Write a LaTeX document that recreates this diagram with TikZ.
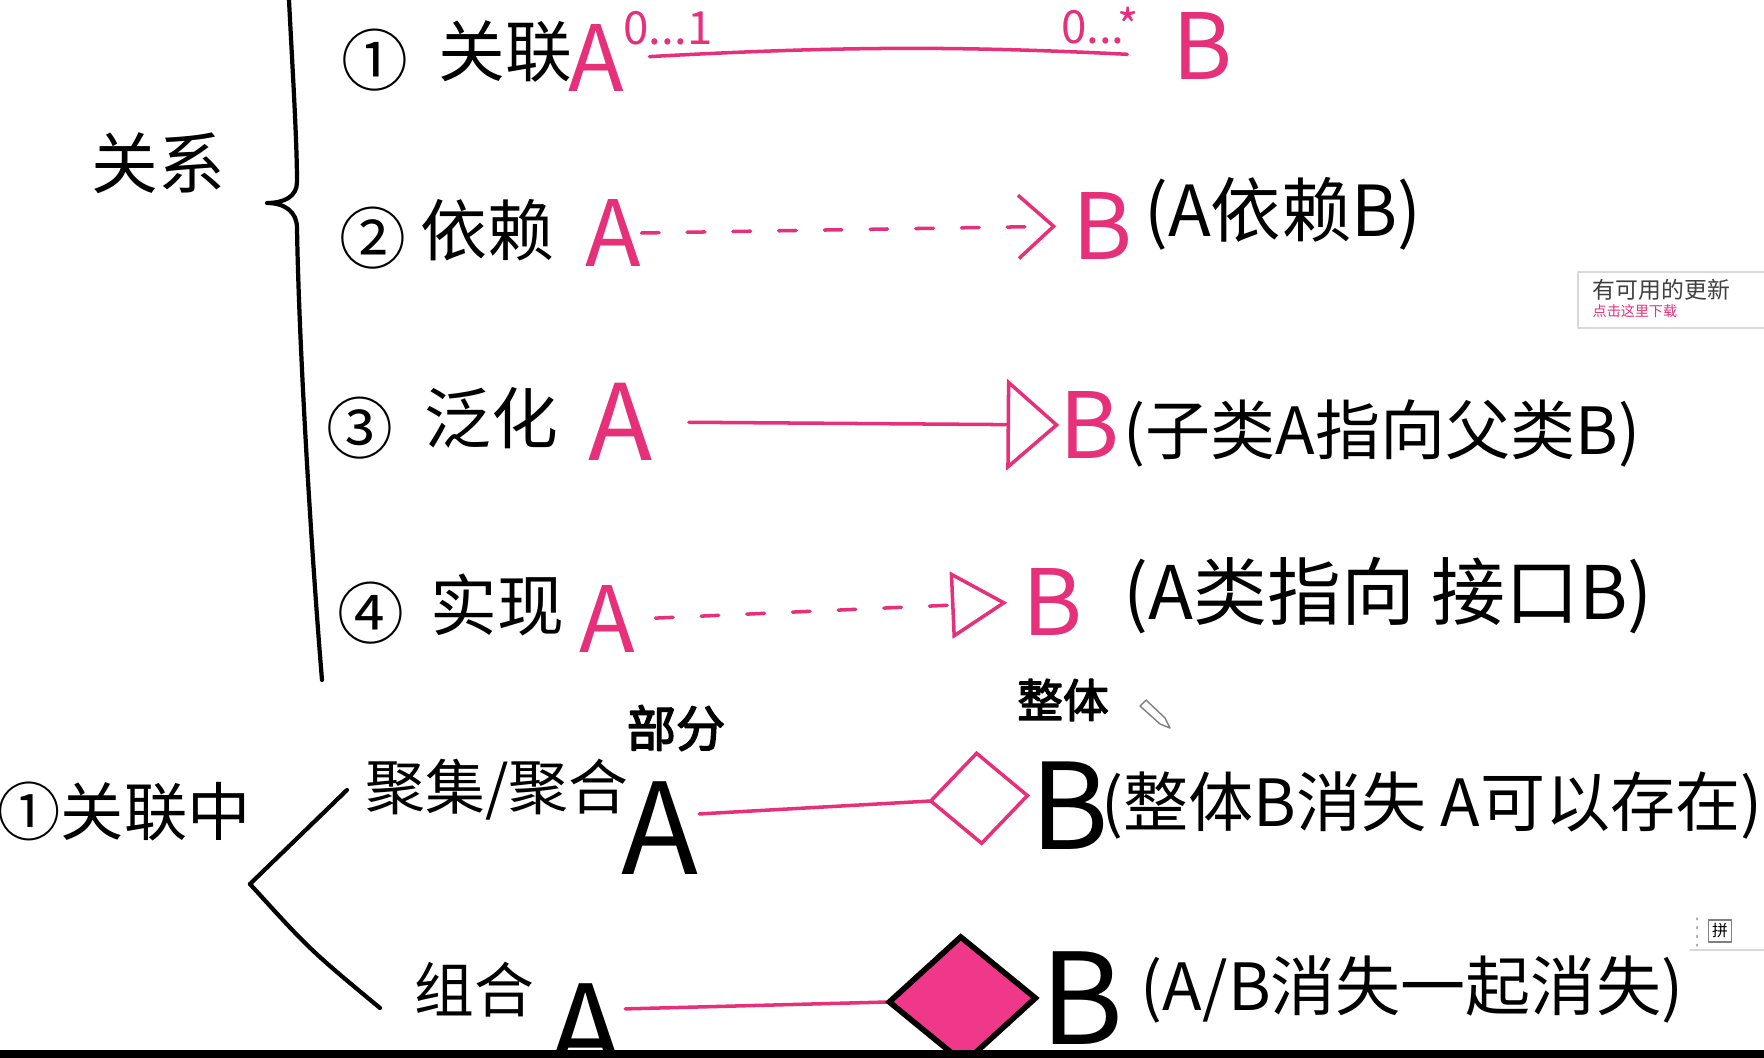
\documentclass[tikz,border=0pt]{standalone}
\usepackage{fontspec}
\setmainfont{Noto Sans CJK SC}
\newfontfamily\heavy[FakeBold=3]{Noto Sans CJK SC}
\usetikzlibrary{arrows.meta}
\definecolor{penpink}{RGB}{230,48,122}
\definecolor{blotpink}{RGB}{240,56,138}

\begin{document}
\begin{tikzpicture}[x=0.01cm,y=-0.01cm,line cap=round,line join=round,
  ink/.style={line width=1.2pt},
  pinkline/.style={line width=1pt,draw=penpink},
  lbl/.style={inner sep=0pt,font=\fontsize{19}{19}\selectfont},
  cls/.style={inner sep=0pt,text=penpink,font=\fontsize{26}{26}\selectfont},
  bigcls/.style={inner sep=0pt,font=\fontsize{36}{36}\selectfont},
  mult/.style={inner sep=0pt,text=penpink,font=\fontsize{13}{13}\selectfont},
  role/.style={inner sep=0pt,font=\heavy\fontsize{14}{14}\selectfont},
  dashes/.style={dash pattern=on 5pt off 8pt}]
\useasboundingbox (0,0) rectangle (1764,1058);
% ---------- relations ----------
\node[lbl] (rel) at (158,163) {关系};
\draw[ink] (289,0) .. controls (292,60) and (297,140) .. (297,182)
  .. controls (297,196) and (285,203) .. (267,203)
  .. controls (285,203) and (297,212) .. (297,228)
  .. controls (299,350) and (312,560) .. (322,680);
% (1) association
\node[lbl] (n1) at (375,60) {①};
\node[lbl] (t1) at (505,52) {关联};
\node[cls] (a1) at (596,58) {A};
\node[cls] (b1) at (1203,46) {B};
\node[mult] (m1) at (668,28) {0...1};
\node[mult] (m2) at (1100,26) {0...*};
\draw[pinkline,shorten <=0.25cm,shorten >=0.45cm] (a1.east) to[bend left=3] ([yshift=-3pt]b1.west);
% (2) dependency
\node[lbl] (n2) at (373,238) {②};
\node[lbl] (t2) at (487,230) {依赖};
\node[cls] (a2) at (613,233) {A};
\node[cls] (b2) at (1103,226) {B};
\node[lbl,font=\fontsize{20}{20}\selectfont] (d2) at (1283,214) {(A依赖B)};
\draw[pinkline,dashes,shorten >=0.16cm,-{Straight Barb[length=10pt,width=18pt]}] (a2.east) -- (b2.west);
% (3) generalization
\node[lbl] (n3) at (360,428) {③};
\node[lbl] (t3) at (491,418) {泛化};
\node[cls,font=\fontsize{30}{30}\selectfont] (a3) at (621,422) {A};
\node[cls] (b3) at (1090,425) {B};
\node[lbl,font=\fontsize{18.5}{18.5}\selectfont] (d3) at (1382,433) {(子类A指向父类B)};
\draw[pinkline,shorten <=0.35cm,-{Triangle[open,length=15pt,width=26pt]}] (a3.east) -- (b3.west);
% (4) realization
\node[lbl] (n4) at (371,613) {④};
\node[lbl] (t4) at (497,605) {实现};
\node[cls] (a4) at (607,619) {A};
\node[cls] (b4) at (1053,602) {B};
\node[lbl,font=\fontsize{21}{21}\selectfont] (d4) at (1388,596) {(A类指向\ 接口B)};
\draw[pinkline,dashes,shorten <=0.2cm,shorten >=0.15cm,-{Triangle[open,length=16pt,width=19pt]}] (a4.east) -- (b4.west);
% ---------- inside association ----------
\node[lbl,font=\fontsize{18}{18}\selectfont] (agg) at (124,812) {①关联中};
\coordinate (fork) at (250,884);
\coordinate (up) at (347,790);
\coordinate (down) at (380,1008);
\draw[ink] (fork) -- (up);
\draw[ink] (fork) .. controls (310,950) .. (down);
% aggregation
\node[lbl,font=\fontsize{17}{17}\selectfont] (t5) at (497,790) {聚集/聚合};
\node[role] (p5) at (676,728) {部分};
\node[bigcls] (a5) at (660,828) {A};
\node[role,font=\heavy\fontsize{13}{13}\selectfont] (w5) at (1063,700) {整体};
\node[bigcls,font=\fontsize{34}{34}\selectfont] (b5) at (1070,806) {B};
\node[lbl,font=\fontsize{18.5}{18.5}\selectfont] (d5) at (1432,806) {(整体B消失\ A可以存在)};
\draw[pinkline,-{Diamond[open,length=29pt,width=27pt]}] ([yshift=4pt]a5.east) -- ([yshift=3pt]b5.west);
% composition
\node[lbl,font=\fontsize{17}{17}\selectfont] (t6) at (474,990) {组合};
\node[bigcls] (a6) at (586,1030) {A};
\node[bigcls] (b6) at (1082,998) {B};
\node[lbl,font=\fontsize{18.5}{18.5}\selectfont] (d6) at (1412,990) {(A/B消失一起消失)};
\draw[pinkline,-{Diamond[length=44pt,width=38pt,fill=blotpink,color=black,line width=1.6pt]}] ([yshift=6pt]a6.east) -- (b6.west);
% ---------- screen bits ----------
\draw[gray!30,fill=white] (1578,272) rectangle (1766,328);
\node[inner sep=0pt,anchor=west,text=black!75,font=\fontsize{6.5}{6.5}\selectfont] (upd) at (1592,290) {有可用的更新};
\node[inner sep=0pt,anchor=west,text=penpink,font=\fontsize{4}{4}\selectfont] (dl) at (1592,311) {点击这里下载};
\draw[gray!60,line width=0.5pt,dotted] (1697,918) -- (1697,946);
\draw[gray!30,line width=0.5pt] (1690,950) -- (1764,950);
\node[draw=gray,inner sep=1pt,font=\fontsize{4.5}{4.5}\selectfont] (pin) at (1720,931) {拼};
\draw[gray,line width=0.4pt,fill=white] (1140,706) -- (1146,700) -- (1165,718) -- (1170,728) -- (1160,724) -- cycle;
\fill[black] (0,1050) rectangle (1764,1058);
\end{tikzpicture}
\end{document}
